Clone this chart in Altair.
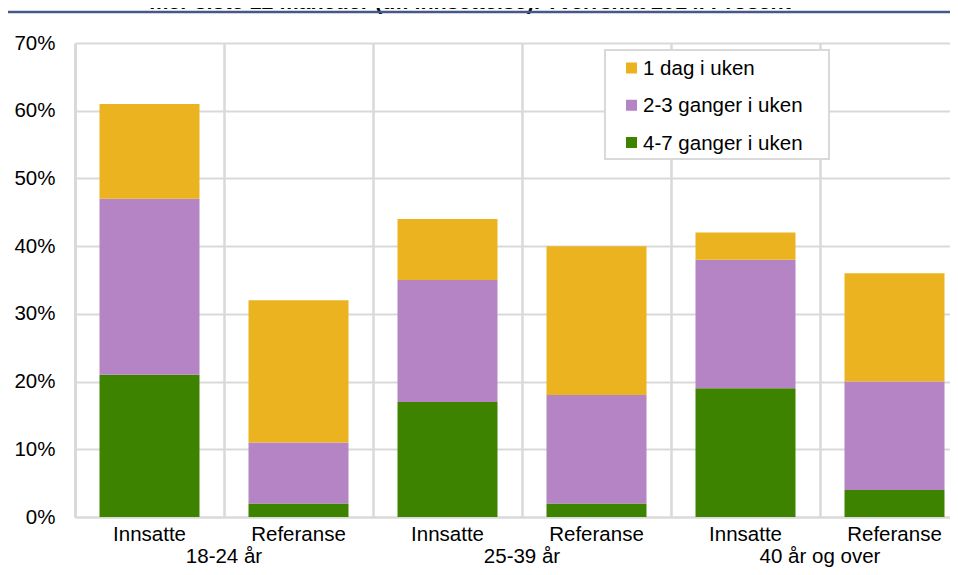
import altair as alt
import pandas as pd

series = ["1 dag i uken", "2-3 ganger i uken", "4-7 ganger i uken"]
colors = ["#EBB320", "#B484C4", "#3E8300"]
groups = ["18-24 år", "25-39 år", "40 år og over"]
bar_labels = ["Innsatte", "Referanse", "Innsatte", "Referanse", "Innsatte", "Referanse"]
v_1dag = [14, 21, 9, 22, 4, 16]
v_23 = [26, 9, 18, 16, 19, 16]
v_47 = [21, 2, 17, 2, 19, 4]
title_text = "mer siste 12 måneder (t.f. innsettelse). Tverrsnitt 2014. Prosent"

FONT = "Liberation Sans"
FS = 20.5
STEP = 149
W, H = 875, 474

rows = []
for i in range(6):
    for ordv, (s, vals) in enumerate(zip(reversed(series), [v_47, v_23, v_1dag])):
        rows.append({"pos": i + 0.5, "series": s, "value": vals[i] / 100, "ord": ordv})
df = pd.DataFrame(rows)

df_lab = pd.DataFrame({"pos": [i + 0.5 for i in range(6)], "label": bar_labels})
df_grp = pd.DataFrame({"pos": [1, 3, 5], "label": groups})
df_title = pd.DataFrame({"label": [title_text]})
df_leg = pd.DataFrame({"series": series, "row": [0, 1, 2]})

xscale = alt.Scale(domain=[0, W / STEP], nice=False, zero=False, padding=0)
cscale = alt.Scale(domain=series, range=colors)

bars = alt.Chart(df).mark_bar(size=100).encode(
    x=alt.X("pos:Q", scale=xscale,
            axis=alt.Axis(values=[1, 2, 3, 4, 5], labels=False, ticks=False, title=None,
                          grid=True, gridColor="#d9d9d9", gridWidth=2.5,
                          domainColor="#d9d9d9", domainWidth=2)),
    y=alt.Y("value:Q", stack="zero", scale=alt.Scale(domain=[0, 0.7], nice=False, padding=0),
            axis=alt.Axis(values=[0, 0.1, 0.2, 0.3, 0.4, 0.5, 0.6, 0.7], format=".0%",
                          grid=True, gridColor="#d9d9d9", gridWidth=2,
                          domainColor="#d9d9d9", domainWidth=3, ticks=False,
                          labelPadding=20, labelFontSize=FS, labelFont=FONT,
                          labelColor="black", title=None)),
    color=alt.Color("series:N", scale=cscale, legend=None),
    order=alt.Order("ord:Q", sort="ascending"),
)

labels = alt.Chart(df_lab).mark_text(fontSize=FS, font=FONT, color="black",
                                     baseline="alphabetic").encode(
    x=alt.X("pos:Q", scale=xscale), y=alt.value(H + 24), text="label:N")

glabels = alt.Chart(df_grp).mark_text(fontSize=FS, font=FONT, color="black",
                                      baseline="alphabetic").encode(
    x=alt.X("pos:Q", scale=xscale), y=alt.value(H + 46), text="label:N")

title = alt.Chart(df_title).mark_text(fontSize=21.5, font=FONT, fontWeight="bold",
                                      color="black", baseline="alphabetic").encode(
    x=alt.value(395), y=alt.value(-34), text="label:N")

line = alt.Chart(df_title).mark_rule(color="#44598A", strokeWidth=2.5).encode(
    x=alt.value(-67), x2=alt.value(W), y=alt.value(-31))

# legend box and entries
leg_box = alt.Chart(df_title).mark_rect(fill="white", stroke="#d9d9d9", strokeWidth=2).encode(
    x=alt.value(530), x2=alt.value(754), y=alt.value(7), y2=alt.value(116))

rowscale = alt.Scale(type="point", domain=[0, 1, 2], range=[25, 99.5], padding=0)

leg_sym = alt.Chart(df_leg).mark_square(size=121, opacity=1, strokeWidth=0).encode(
    x=alt.value(556.5),
    y=alt.Y("row:O", scale=rowscale, axis=None),
    color=alt.Color("series:N", scale=cscale, legend=None))

leg_txt = alt.Chart(df_leg).mark_text(fontSize=FS, font=FONT, color="black",
                                      align="left", baseline="middle", dy=1).encode(
    x=alt.value(568),
    y=alt.Y("row:O", scale=rowscale, axis=None),
    text="series:N")

main = alt.layer(bars, labels, glabels, title, line)
legend = alt.layer(leg_box, leg_sym, leg_txt)

chart = alt.layer(main, legend).resolve_scale(y="independent").properties(
    width=W, height=H,
    autosize=alt.AutoSizeParams(type="none"),
    padding={"left": 67, "top": 35, "right": 0, "bottom": 50},
).configure_view(stroke=None)

chart.save("out.html", embed_options={"renderer": "svg", "actions": False})
